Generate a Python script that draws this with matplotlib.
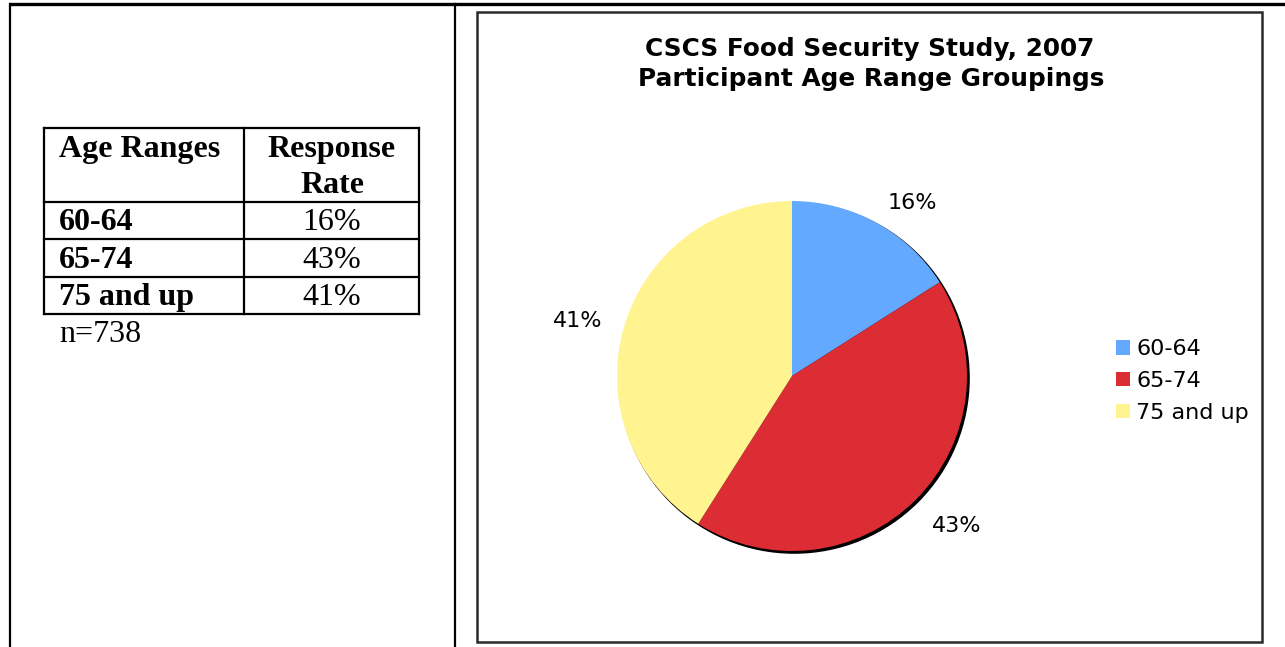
import matplotlib
matplotlib.use("Agg")
import matplotlib.pyplot as plt
from matplotlib.patches import Rectangle, Circle

# response data
age_groups = ["60-64", "65-74", "75 and up"]
response_rate = [16, 43, 41]
n_total = 738
slice_colors = ["#63A9FF", "#DC2D34", "#FFF48F"]

title_lines = ["CSCS Food Security Study, 2007", "Participant Age Range Groupings"]

W, H = 1285, 647
fig = plt.figure(figsize=(W / 100, H / 100), dpi=100)

# full-figure axes working in pixel units (y down)
base = fig.add_axes([0, 0, 1, 1])
base.set_xlim(0, W)
base.set_ylim(H, 0)
base.axis("off")

# outer page table frame
base.plot([9, W], [4, 4], color="black", lw=2.4, solid_capstyle="butt")
base.plot([10, 10], [4, H], color="black", lw=1.6)
base.plot([455, 455], [4, H], color="black", lw=1.6)

# chart box
base.add_patch(Rectangle((477, 12), 785, 630, fill=False, ec="#2b2b2b", lw=1.8))

# left-hand response table
serif = "Liberation Serif"
fs_tab = 23
tx0, tx1, tcol = 44, 419, 244
row_y = [128, 202, 239, 277, 314]
for y in row_y:
    base.plot([tx0, tx1], [y, y], color="black", lw=1.6, solid_capstyle="projecting")
for x in (tx0, tcol, tx1):
    base.plot([x, x], [row_y[0], row_y[-1]], color="black", lw=1.6)

base.text(59, 157, "Age Ranges", family=serif, weight="bold", fontsize=fs_tab, va="baseline")
base.text(332, 157, "Response", family=serif, weight="bold", fontsize=fs_tab, va="baseline", ha="center")
base.text(332, 193, "Rate", family=serif, weight="bold", fontsize=fs_tab, va="baseline", ha="center")
baselines = [230, 268, 305]
for grp, rate, yb in zip(age_groups, response_rate, baselines):
    base.text(59, yb, grp, family=serif, weight="bold", fontsize=fs_tab, va="baseline")
    base.text(332, yb, f"{rate}%", family=serif, fontsize=fs_tab, va="baseline", ha="center")
base.text(59, 342, f"n={n_total}", family=serif, fontsize=fs_tab, va="baseline")

# chart title
sans = "DejaVu Sans"
base.text(870, 56, title_lines[0], family=sans, weight="bold", fontsize=17.8,
          ha="center", va="baseline")
base.text(871, 86, title_lines[1], family=sans, weight="bold", fontsize=17.8,
          ha="center", va="baseline")

# pie axes, centred at (792, 376) px with radius 175 px
cx, cy, r = 792, 376, 175
ax = fig.add_axes([(cx - r) / W, (H - cy - r) / H, 2 * r / W, 2 * r / H])
ax.set_aspect("equal")
ax.axis("off")
ax.patch.set_alpha(0)

# drop shadow under the pie
ax.add_patch(Circle((0.012, -0.012), 1.0, color="black", zorder=0, clip_on=False))

wedges, texts = ax.pie(response_rate, colors=slice_colors, startangle=90,
                       counterclock=False, radius=1.0,
                       labels=[f"{v}%" for v in response_rate], labeldistance=1.13,
                       textprops=dict(family=sans, fontsize=16),
                       wedgeprops=dict(linewidth=0))
for w in wedges:
    w.set_zorder(1)
# labels under the pie hang below their anchor point
for t in texts:
    if t.get_position()[1] < -0.3:
        t.set_va("top")
ax.set_xlim(-1, 1)
ax.set_ylim(-1, 1)

ax.legend(wedges, age_groups, loc="center left", frameon=False,
          bbox_to_anchor=(1116 / W, 1 - 381 / H), bbox_transform=fig.transFigure,
          prop=dict(family=sans, size=16), handlelength=0.62, handleheight=0.62,
          handletextpad=0.3, labelspacing=0.52, borderaxespad=0, borderpad=0)

fig.savefig("out.png", dpi=100)
